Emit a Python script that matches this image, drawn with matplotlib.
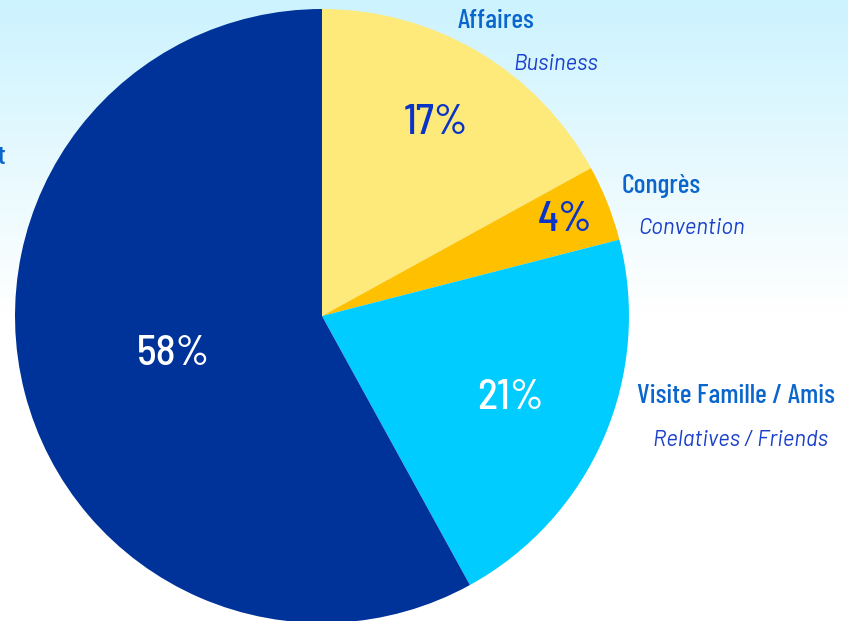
import numpy as np
import matplotlib
matplotlib.use("Agg")
import matplotlib.pyplot as plt
from matplotlib.colors import LinearSegmentedColormap

# data
labels_fr = ["Affaires", "Congrès", "Visite Famille / Amis", "Loisirs / Agrément"]
labels_en = ["Business", "Convention", "Relatives / Friends", "Leisure"]
shares = [17, 4, 21, 58]
colors = ["#FDEA7B", "#FFC000", "#00CCFF", "#003399"]
pct_colors = ["#0A33C8", "#0A33C8", "white", "white"]
pct_dist = [0.73, 0.85, 0.67, 0.50]

W, H = 848, 621
plt.rcParams["font.family"] = ["Barlow Condensed", "DejaVu Sans"]
italic_font = ["Barlow", "Barlow Semi Condensed", "DejaVu Sans"]
pct_font = ["Barlow Semi Condensed", "Barlow Condensed", "DejaVu Sans"]

fig = plt.figure(figsize=(W / 100, H / 100), dpi=100)
ax = fig.add_axes([0, 0, 1, 1])

# background gradient, light cyan on top fading to white
grad = LinearSegmentedColormap.from_list("bg", ["#FFFFFF", "#FFFFFF", "#CCF3FE"])
ax.imshow(np.linspace(0, 1, 256).reshape(-1, 1), cmap=grad, extent=[0, W, 0, H],
          aspect="auto", origin="lower", zorder=0)

cx, cy, r = 322, H - 316, 307
wedges, _ = ax.pie(shares, colors=colors, startangle=90, counterclock=False,
                   center=(cx, cy), radius=r, frame=True,
                   wedgeprops=dict(linewidth=0))
ax.set_xlim(0, W)
ax.set_ylim(0, H)
ax.set_aspect("equal")
ax.axis("off")

for w, val, col, d in zip(wedges, shares, pct_colors, pct_dist):
    a = np.deg2rad((w.theta1 + w.theta2) / 2)
    ax.text(cx + d * r * np.cos(a), cy + d * r * np.sin(a), f"{val}%",
            ha="center", va="center", fontsize=30, fontweight=500, color=col,
            family=pct_font)

# outside labels (the leisure one runs off the left edge, as in the original)
lab_pos = [(496, 21, 556, 64, "center"), (622, 186, 638, 229, "left"),
           (637, 396, 653, 441, "left"), (6, 157, None, None, "right")]
for (x1, y1, x2, y2, ha), fr, en in zip(lab_pos, labels_fr, labels_en):
    ax.text(x1, H - y1, fr, ha=ha, va="center", fontsize=20, fontweight=500,
            color="#0A66CC")
    if x2 is not None:
        ax.text(x2, H - y2, en, ha=ha, va="center", family=italic_font,
                fontsize=16, style="italic", color="#1A3FCC")

fig.savefig("out.png", dpi=100)
